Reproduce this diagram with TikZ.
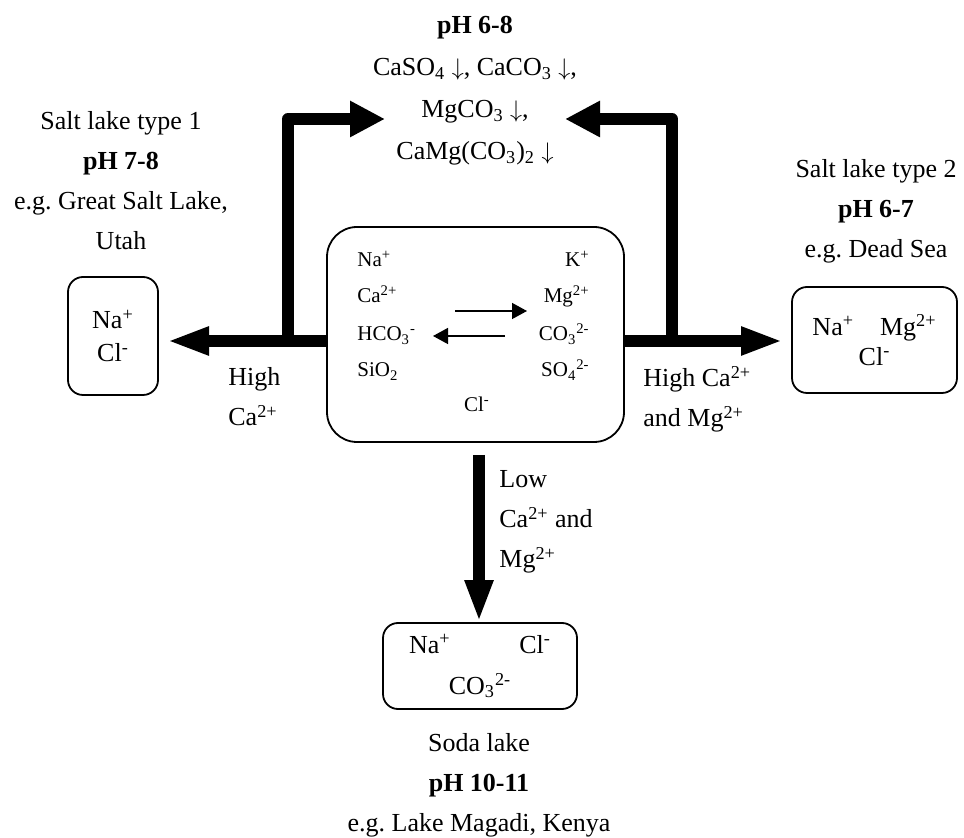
\documentclass[tikz,border=0pt]{standalone}
\usepackage{fontspec}
\setmainfont{Liberation Serif}
\usetikzlibrary{arrows.meta}
\frenchspacing

\newcommand{\up}[1]{\textsuperscript{#1}}
\newcommand{\dn}[1]{\textsubscript{#1}}
\newcommand{\ppt}{\ $\downarrow$}

\begin{document}
\begin{tikzpicture}[x=0.5pt, y=-0.5pt, every node/.style={font=\fontsize{13}{20}\selectfont, align=center, inner sep=0pt},
  lake/.style={draw, line width=0.9pt, rounded corners=7.5pt},
  ion/.style={font=\fontsize{10.5}{18}\selectfont},
  flow/.style={line width=6pt, -{Triangle[length=21pt,width=13pt]}},
  riser/.style={line width=6pt, line join=round, -{Triangle[length=17.5pt,width=17pt]}},
  eqarrow/.style={line width=0.7pt, -{Triangle[length=7.5pt,width=8pt]}}]
\useasboundingbox (0,0) rectangle (964,838);
\node[lake, rounded corners=15pt, minimum width=148.5pt, minimum height=107.5pt] (brine) at (475.5,334.5) {};
\node[lake, minimum width=45pt, minimum height=59pt, font=\fontsize{13}{16.5}\selectfont] (type1) at (113,336) {Na\up{+}\\Cl\up{-}};
\node[lake, minimum width=82.5pt, minimum height=53pt, font=\fontsize{13}{15}\selectfont] (type2) at (874.5,340) {Na\up{+}\quad Mg\up{2+}\\Cl\up{-}};
\node[lake, minimum width=97pt, minimum height=43pt, font=\fontsize{13}{20.5}\selectfont] (soda) at (480,666) {\makebox[71pt]{Na\up{+}\hfill Cl\up{-}}\\CO\dn{3}\up{2-}};
\node[anchor=base] (info1) at (121,250) {Salt lake type 1\\\textbf{pH 7-8}\\e.g. Great Salt Lake,\\Utah};
\node[anchor=base] (info2) at (876,258) {Salt lake type 2\\\textbf{pH 6-7}\\e.g. Dead Sea};
\node[anchor=base] (info3) at (479,832) {Soda lake\\\textbf{pH 10-11}\\e.g. Lake Magadi, Kenya};
\node[anchor=base, font=\fontsize{13}{21}\selectfont] (precip) at (475,160) {\textbf{pH 6-8}\\CaSO\dn{4}\ppt, CaCO\dn{3}\ppt,\\MgCO\dn{3}\ppt,\\CaMg(CO\dn{3})\dn{2}\ppt};
\node[anchor=base west, align=left] (cond1) at (228,426) {High\\Ca\up{2+}};
\node[anchor=base west, align=left] (cond2) at (643,427) {High Ca\up{2+}\\and Mg\up{2+}};
\node[anchor=base west, align=left] (cond3) at (499,568) {Low\\Ca\up{2+} and\\Mg\up{2+}};
\foreach \n/\t/\y in {a/Na\up{+}/267, b/Ca\up{2+}/303, c/HCO\dn{3}\up{-}/341, d/SiO\dn{2}/377}
  \node[ion, anchor=base west] (l\n) at (357,\y) {\t};
\foreach \n/\t/\y in {a/K\up{+}/267, b/Mg\up{2+}/303, c/CO\dn{3}\up{2-}/341, d/SO\dn{4}\up{2-}/377}
  \node[ion, anchor=base east] (r\n) at (590,\y) {\t};
\node[ion, anchor=base] (cl) at (477,412) {Cl\up{-}};
\coordinate (fa) at (455,311); \coordinate (fb) at (527,311);
\coordinate (ba) at (505,336); \coordinate (bb) at (433,336);
\foreach \a/\b in {fa/fb,ba/bb}
  \draw[eqarrow] (\a) -- (\b);
\coordinate (foot1) at (288,335); \coordinate (head1) at (385,119);
\coordinate (foot2) at (672,335); \coordinate (head2) at (565,119);
\draw[riser] (foot1) |- (head1);
\draw[riser] (foot2) |- (head2);
\coordinate (tip1) at (167,341); \coordinate (tip2) at (783,341); \coordinate (foot3) at (479,455);
\draw[flow] (brine.west |- tip1) -- (tip1);
\draw[flow] (brine.east |- tip2) -- (tip2);
\draw[flow] (foot3) -- (soda.north -| foot3);
\end{tikzpicture}
\end{document}
